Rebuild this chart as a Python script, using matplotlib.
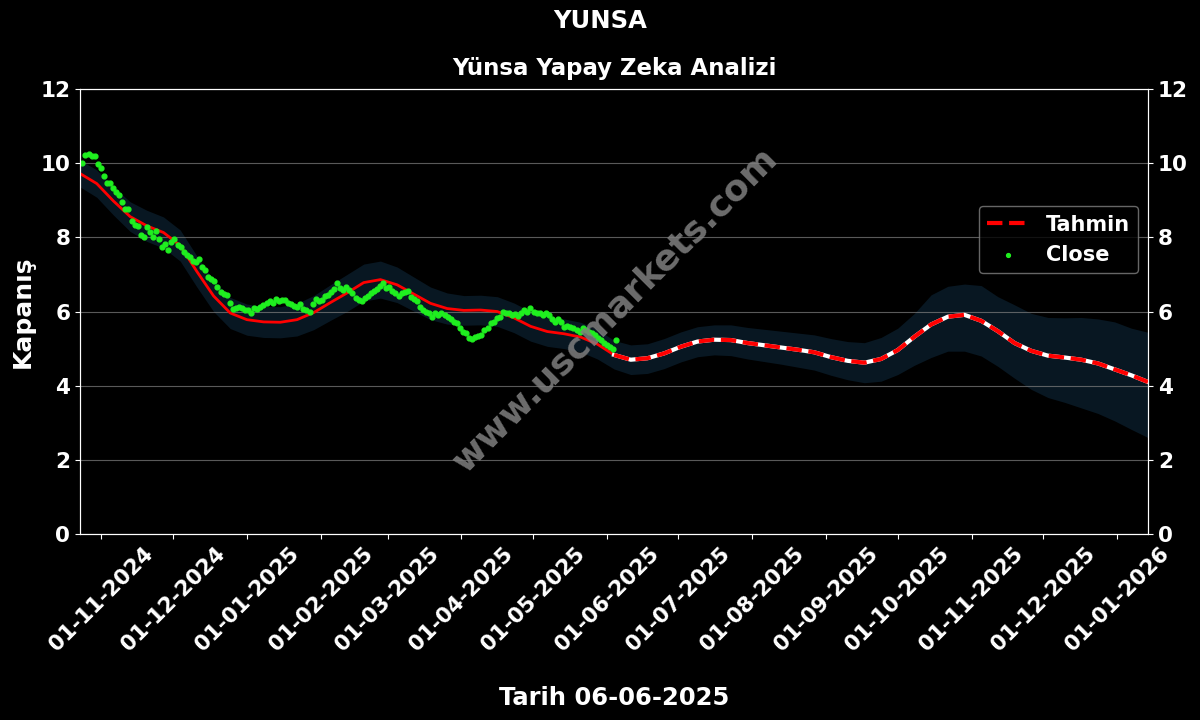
import numpy as np
import pandas as pd
import matplotlib
matplotlib.use("Agg")
import matplotlib.pyplot as plt
import matplotlib.dates as mdates

# closing prices (one point per trading session, 24-10-2024 .. 05-06-2025)
close_start = "2024-10-24"
close_end = "2025-06-05"
close_values = [
    10.0, 10.22, 10.25, 10.18, 10.19, 9.98, 9.86, 9.65, 9.46, 9.46,
    9.32, 9.23, 9.14, 8.96, 8.76, 8.76, 8.44, 8.33, 8.31, 8.06,
    8.02, 8.27, 8.15, 8.02, 8.18, 7.95, 7.73, 7.82, 7.66, 7.88,
    7.95, 7.79, 7.73, 7.61, 7.52, 7.46, 7.37, 7.34, 7.41, 7.21,
    7.12, 6.94, 6.87, 6.83, 6.67, 6.53, 6.47, 6.45, 6.22, 6.06,
    6.10, 6.13, 6.09, 6.04, 6.04, 5.97, 6.09,
    6.06, 6.13, 6.18, 6.24, 6.29, 6.24, 6.33, 6.29, 6.31, 6.31,
    6.24, 6.20, 6.15, 6.13, 6.20, 6.06, 6.04, 6.00, 6.20, 6.33,
    6.27, 6.31, 6.42, 6.45, 6.53, 6.60, 6.76, 6.63, 6.58, 6.65,
    6.58, 6.49, 6.36, 6.31, 6.27, 6.36, 6.42, 6.51, 6.56, 6.60,
    6.69, 6.76, 6.63, 6.67, 6.56, 6.49, 6.42, 6.49, 6.53, 6.56,
    6.38, 6.33, 6.29, 6.13, 6.04, 6.00, 5.95, 5.86,
    5.95, 5.91, 5.95, 5.91, 5.86, 5.79, 5.73, 5.68, 5.55, 5.46,
    5.43, 5.28, 5.25, 5.30, 5.34, 5.37, 5.50, 5.55, 5.68, 5.73,
    5.82, 5.84, 6.00, 5.97, 5.95, 5.91, 5.93, 5.88, 5.97, 6.04,
    6.00, 6.09, 6.00, 5.95, 5.97, 5.91, 5.95, 5.91, 5.79, 5.73,
    5.79, 5.73, 5.59, 5.61, 5.57, 5.55, 5.50, 5.46, 5.55, 5.50,
    5.46, 5.41, 5.37, 5.28, 5.23, 5.14, 5.10, 5.05, 4.98, 5.23,
]

# model line + confidence band, weekly from 23-10-2024
model_start = "2024-10-23"
forecast_from = 32  # index of 04-06-2025, where the forecast part begins
model_line = [
    9.72, 9.45, 8.98, 8.56, 8.31, 8.13, 7.78, 7.08, 6.42, 5.96,
    5.78, 5.72, 5.71, 5.78, 5.97, 6.24, 6.50, 6.78, 6.86, 6.72,
    6.47, 6.22, 6.08, 6.03, 6.04, 6.00, 5.83, 5.60, 5.46, 5.40,
    5.31, 5.12, 4.83, 4.70, 4.74, 4.87, 5.05, 5.19, 5.24, 5.23,
    5.15, 5.09, 5.03, 4.97, 4.90, 4.77, 4.67, 4.62, 4.72, 4.96,
    5.32, 5.65, 5.86, 5.91, 5.75, 5.47, 5.15, 4.94, 4.81, 4.76,
    4.70, 4.60, 4.44, 4.28, 4.10,
]
band_upper = [
    10.08, 9.82, 9.36, 8.96, 8.73, 8.55, 8.20, 7.50, 6.84, 6.38,
    6.20, 6.14, 6.13, 6.22, 6.43, 6.72, 7.00, 7.28, 7.36, 7.20,
    6.93, 6.66, 6.50, 6.43, 6.44, 6.40, 6.23, 6.00, 5.86, 5.80,
    5.71, 5.52, 5.22, 5.10, 5.13, 5.27, 5.45, 5.59, 5.64, 5.64,
    5.57, 5.52, 5.47, 5.42, 5.37, 5.27, 5.19, 5.16, 5.30, 5.55,
    5.95, 6.45, 6.68, 6.74, 6.70, 6.40, 6.18, 5.95, 5.84, 5.83,
    5.84, 5.80, 5.72, 5.55, 5.44,
]
band_lower = [
    9.36, 9.08, 8.60, 8.16, 7.89, 7.71, 7.36, 6.66, 6.00, 5.54,
    5.36, 5.30, 5.29, 5.34, 5.51, 5.76, 6.00, 6.28, 6.36, 6.24,
    6.01, 5.78, 5.66, 5.63, 5.64, 5.60, 5.43, 5.20, 5.06, 5.00,
    4.91, 4.72, 4.45, 4.30, 4.33, 4.46, 4.64, 4.78, 4.83, 4.81,
    4.72, 4.65, 4.58, 4.50, 4.42, 4.28, 4.16, 4.08, 4.12, 4.30,
    4.55, 4.76, 4.93, 4.93, 4.80, 4.52, 4.20, 3.90, 3.68, 3.55,
    3.40, 3.25, 3.05, 2.82, 2.60,
]

close_dates = pd.date_range(close_start, close_end, periods=len(close_values))
model_dates = pd.date_range(model_start, periods=len(model_line), freq="7D")
line = np.array(model_line)

fig = plt.figure(figsize=(12, 7.2), dpi=100, facecolor="black")
ax = fig.add_axes([0.0667, 0.2583, 0.89, 0.6181])
ax.set_facecolor("black")

ax.fill_between(model_dates, band_lower, band_upper, color="#081722", lw=0, zorder=1)
ax.plot(model_dates[:forecast_from + 1], line[:forecast_from + 1], color="red", lw=2, zorder=3)
ax.plot(model_dates[forecast_from:], line[forecast_from:], color="white", lw=3, zorder=3)
ax.plot(model_dates[forecast_from:], line[forecast_from:], color="red", lw=3,
        ls="--", zorder=4, label="Tahmin")
ax.scatter(close_dates, close_values, s=12, color="#1fef1f", zorder=5, label="Close")

ax.set_xlim(model_dates[0], model_dates[-1])
ax.set_ylim(0, 12)
ax.set_yticks(range(0, 13, 2))
ax.grid(axis="y", color="gray", lw=0.8, alpha=0.7)
ax.xaxis.set_major_locator(mdates.MonthLocator(bymonthday=1))
ax.xaxis.set_major_formatter(mdates.DateFormatter("%d-%m-%Y"))
plt.setp(ax.get_xticklabels(), rotation=45, ha="center")

ax2 = ax.twinx()
ax2.set_ylim(0, 12)
ax2.set_yticks(range(0, 13, 2))

for a in (ax, ax2):
    for s in a.spines.values():
        s.set_color("white")
    a.tick_params(colors="white", labelsize=15.5)
    for lab in a.get_xticklabels() + a.get_yticklabels():
        lab.set_fontweight("bold")

ax.set_ylabel("Kapanış", color="white", fontsize=18, fontweight="bold")
ax.set_xlabel("Tarih 06-06-2025", color="white", fontsize=17.5, fontweight="bold", labelpad=22.5)
ax.set_title("Yünsa Yapay Zeka Analizi", color="white", fontsize=16.5, fontweight="bold", pad=10)
fig.suptitle("YUNSA", color="white", fontsize=17.5, fontweight="bold", y=0.987)

leg = ax.legend(loc="upper right", bbox_to_anchor=(1.0005, 0.76), facecolor="black",
                edgecolor="gray", labelcolor="white", prop={"weight": "bold", "size": 15},
                markerscale=0.8)
leg.set_zorder(10)

fig.text(0.5125, 0.57, "www.uscmarkets.com", color="#808080", alpha=0.85, fontsize=26,
         fontweight="bold", rotation=45, ha="center", va="center", zorder=20)

fig.savefig("out.png", dpi=100, facecolor="black")
